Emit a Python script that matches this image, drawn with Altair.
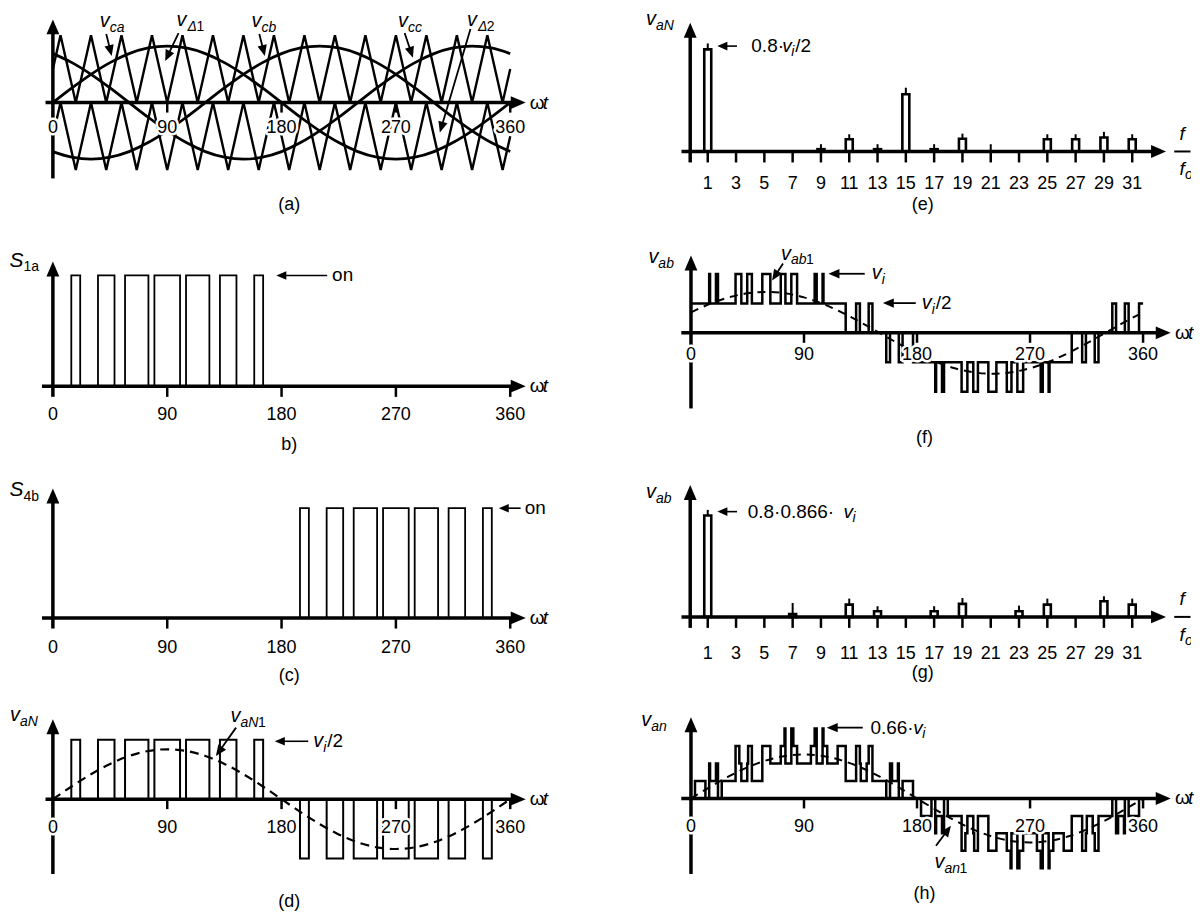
import math
import altair as alt
import pandas as pd

FONT = "Liberation Sans"

# ---------------- values ----------------
angle_ticks = [0, 90, 180, 270, 360]
harmonic_ticks = [1, 3, 5, 7, 9, 11, 13, 15, 17, 19, 21, 23, 25, 27, 29, 31]

# one period of the reference shape, sampled every 15 degrees
sine_deg = [0, 15, 30, 45, 60, 75, 90, 105, 120, 135, 150, 165, 180,
            195, 210, 225, 240, 255, 270, 285, 300, 315, 330, 345, 360]
sine_shape = [0.0, 0.259, 0.5, 0.707, 0.866, 0.966, 1.0, 0.966, 0.866, 0.707, 0.5, 0.259, 0.0,
              -0.259, -0.5, -0.707, -0.866, -0.966, -1.0, -0.966, -0.866, -0.707, -0.5, -0.259, 0.0]
ref_amp = 0.84      # references in (a) and v_aN1 in (d)  (carrier = 1, v_i/2 = 1)
vab1_amp = 1.39     # v_ab1 in (f), units of v_i/2
van1_amp = 2.52     # v_an1 in (h), units of v_i/6

# phase-disposition carriers of (a): vertex angles and levels
carrier_deg = [0, 6, 18, 30, 42, 54, 66, 78, 90, 102, 114, 126, 138, 150, 162, 174,
               186, 198, 210, 222, 234, 246, 258, 270, 282, 294, 306, 318, 330, 342, 354, 360]
upper_carrier = [0.5, 1, 0, 1, 0, 1, 0, 1, 0, 1, 0, 1, 0, 1, 0, 1,
                 0, 1, 0, 1, 0, 1, 0, 1, 0, 1, 0, 1, 0, 1, 0, 0.5]
lower_carrier = [-0.5, 0, -1, 0, -1, 0, -1, 0, -1, 0, -1, 0, -1, 0, -1, 0,
                 -1, 0, -1, 0, -1, 0, -1, 0, -1, 0, -1, 0, -1, 0, -1, -0.5]

# switching edges of phase a (degrees): +v_i/2 pulses (S1a on) and -v_i/2 pulses (S4b on)
pos_on = [14.5, 35.5, 56.8, 79.9, 104.8, 131.5, 158.5]
pos_off = [21.5, 48.5, 75.2, 100.1, 123.2, 144.5, 165.5]
neg_on = [194.5, 215.5, 236.8, 259.9, 284.8, 311.5, 338.5]
neg_off = [201.5, 228.5, 255.2, 280.1, 303.2, 324.5, 345.5]

# spectrum (e): v_aN, units of v_i/2
e_orders = [1, 9, 11, 13, 15, 17, 19, 21, 25, 27, 29, 31]
e_bar = [0.80, 0.018, 0.096, 0.018, 0.448, 0.018, 0.10, 0.0, 0.096, 0.096, 0.109, 0.096]
e_peak = [0.847, 0.057, 0.135, 0.057, 0.50, 0.057, 0.14, 0.057, 0.135, 0.135, 0.154, 0.135]

# spectrum (g): v_ab, units of v_i
g_orders = [1, 7, 11, 13, 17, 19, 23, 25, 29, 31]
g_bar = [0.693, 0.02, 0.084, 0.039, 0.039, 0.089, 0.039, 0.084, 0.107, 0.084]
g_peak = [0.731, 0.095, 0.125, 0.073, 0.073, 0.129, 0.077, 0.125, 0.141, 0.125]


# ---------------- derived waveforms ----------------
def shifted(k):
    return [sine_shape[(i + k) % 24] for i in range(25)]


def a_level(th):
    th = th % 360
    for on, off in zip(pos_on, pos_off):
        if on <= th < off:
            return 1
    for on, off in zip(neg_on, neg_off):
        if on <= th < off:
            return -1
    return 0


edges_a = pos_on + pos_off + neg_on + neg_off


def step_series(fn, shifts):
    ev = sorted(set([0.0, 360.0] + [round((e + s) % 360, 4) for e in edges_a for s in shifts]))
    xs, ys = [], []
    for a, b in zip(ev[:-1], ev[1:]):
        v = fn((a + b) / 2)
        xs += [a, b]
        ys += [v, v]
    return xs, ys


s1a_x, s1a_y = step_series(lambda t: 1 if a_level(t) == 1 else 0, (0,))
s4b_x, s4b_y = step_series(lambda t: 1 if a_level(t) == -1 else 0, (0,))
vaN_x, vaN_y = step_series(a_level, (0,))
vab_x, vab_y = step_series(lambda t: a_level(t) - a_level(t - 120), (0, 120))
van_x, van_y = step_series(lambda t: 2 * a_level(t) - a_level(t - 120) - a_level(t - 240), (0, 120, 240))

HEAD = "M0,0L0.43,1L-0.43,1Z"


class Panel:
    def __init__(self, left, top, width, height, x_ref, x_px, kx, y_px, ky):
        self.w, self.h = width, height
        self.kx, self.ky = kx, ky
        x0 = x_ref + (left - x_px) / kx
        self.xdom = [x0, x0 + width / kx]
        self.ydom = [-(top + height - y_px) / ky, (y_px - top) / ky]
        self.layers = []

    def _x(self, f="x"):
        return alt.X(f, type="quantitative",
                     scale=alt.Scale(domain=self.xdom, nice=False, zero=False), axis=None)

    def _y(self, f="y"):
        return alt.Y(f, type="quantitative",
                     scale=alt.Scale(domain=self.ydom, nice=False, zero=False), axis=None)

    def polyline(self, xs, ys, lw=2.5, dash=None, interp=None):
        df = pd.DataFrame({"x": xs, "y": ys, "o": list(range(len(xs)))})
        kw = dict(color="black", strokeWidth=lw, strokeJoin="miter", strokeCap="butt")
        if dash:
            kw["strokeDash"] = dash
        if interp:
            kw["interpolate"] = interp
        self.layers.append(alt.Chart(df).mark_line(**kw).encode(
            x=self._x(), y=self._y(), order=alt.Order("o:Q")))

    def segs(self, rows, lw=2.0):
        df = pd.DataFrame(rows, columns=["x", "y", "x2", "y2"])
        self.layers.append(alt.Chart(df).mark_rule(color="black", strokeWidth=lw, strokeCap="butt").encode(
            x=self._x(), y=self._y(), x2=alt.X2("x2"), y2=alt.Y2("y2")))

    def heads(self, rows, length):
        df = pd.DataFrame(rows, columns=["x", "y", "a"])
        self.layers.append(alt.Chart(df).mark_point(
            shape=HEAD, filled=True, size=(2 * length) ** 2, opacity=1, color="black", strokeWidth=0
        ).encode(x=self._x(), y=self._y(), angle=alt.Angle("a:Q", scale=None)))

    def arrow(self, x1, y1, x2, y2, length=11, lw=1.8):
        dxp = (x2 - x1) * self.kx
        dyp = -(y2 - y1) * self.ky
        d = math.hypot(dxp, dyp)
        ang = math.degrees(math.atan2(dxp, -dyp)) % 360
        f = max(0.0, (d - 0.7 * length) / d)
        self.segs([(x1, y1, x1 + (x2 - x1) * f, y1 + (y2 - y1) * f)], lw=lw)
        self.heads([(x2, y2, ang)], length)

    def xaxis(self, x_from, x_tip, lw=3.5, head=15):
        self.segs([(x_from, 0, x_tip - 0.7 * head / self.kx, 0)], lw=lw)
        self.heads([(x_tip, 0, 90)], head)

    def yaxis(self, x, y_from, y_tip, lw=3.5, head=15):
        self.segs([(x, y_from, x, y_tip - 0.7 * head / self.ky)], lw=lw)
        self.heads([(x, y_tip, 0)], head)

    def ticks(self, xs, down_px, lw=2.5):
        self.segs([(t, 0, t, -down_px / self.ky) for t in xs], lw=lw)

    def text(self, xs, ys, labels, size=18, italic=False, align="left", dx=0, dy=0,
             halo=False, clip=False):
        if not isinstance(xs, (list, tuple)):
            xs, labels = [xs], [labels]
        if not isinstance(ys, (list, tuple)):
            ys = [ys] * len(xs)
        df = pd.DataFrame({"x": xs, "y": ys, "t": labels})
        kw = dict(font=FONT, fontSize=size, align=align, baseline="middle", dx=dx, dy=dy)
        if italic:
            kw["fontStyle"] = "italic"
        if clip:
            kw["clip"] = True
        enc = dict(x=self._x(), y=self._y(), text=alt.Text("t:N"))
        if halo:
            self.layers.append(alt.Chart(df).mark_text(
                color="white", stroke="white", strokeWidth=5, strokeJoin="round", **kw).encode(**enc))
        self.layers.append(alt.Chart(df).mark_text(color="black", **kw).encode(**enc))

    def vlabel(self, x, y, main, sub, size=20, subsize=14, sub_dx=10, sub_dy=7, digit=None):
        self.text(x, y, main, size=size, italic=True)
        self.text(x, y, sub, size=subsize, italic=True, dx=sub_dx, dy=sub_dy)
        if digit is not None:
            self.text(x, y, digit[0], size=subsize, dx=digit[1], dy=sub_dy)

    def omega_t(self, x):
        self.text(x, 0, "\u03c9", size=19)
        self.text(x, 0, "t", size=19, italic=True, dx=13)

    def chart(self):
        return alt.layer(*self.layers).properties(width=self.w, height=self.h)


# ---------------- (a) carriers and references ----------------
A = Panel(8, 8, 620, 208, 0, 53, 1.2736, 96.7, 67.5)
A.polyline(carrier_deg, upper_carrier, lw=2.4)
A.polyline(carrier_deg, lower_carrier, lw=2.4)
for k in (0, -8, 8):
    A.polyline(sine_deg, [ref_amp * v for v in shifted(k)], lw=2.8, interp="monotone")
A.xaxis(-5.8, 372.2)
A.yaxis(0, -1.126, 1.236)
A.ticks([90, 180, 270, 360], 10)
A.text(angle_ticks, -0.37, [str(t) for t in angle_ticks], align="center", halo=True)
A.text(186, -1.516, "(a)", align="center")
A.omega_t(375.3)
A.vlabel(36.9, 1.21, "v", "ca")
A.vlabel(97.4, 1.225, "v", "\u0394", sub_dx=11, digit=("1", 20))
A.vlabel(156.3, 1.21, "v", "cb")
A.vlabel(271.7, 1.21, "v", "cc")
A.vlabel(325.9, 1.225, "v", "\u0394", sub_dx=11, digit=("2", 20))
A.arrow(42.0, 1.018, 46.3, 0.692)
A.arrow(98.9, 1.033, 88.4, 0.618)
A.arrow(162.5, 1.018, 166.8, 0.692)
A.arrow(276.9, 1.033, 283.4, 0.667)
A.arrow(328.7, 1.092, 304.6, -0.444)

# ---------------- (b) S1a ----------------
B = Panel(8, 216, 620, 239, 0, 53, 1.2736, 381, 111)
B.polyline(s1a_x, s1a_y, lw=1.8)
B.xaxis(-8.6, 372.2)
B.yaxis(0, -0.096, 1.126)
B.ticks([90, 180, 270, 360], 10.7)
B.text(angle_ticks, -0.261, [str(t) for t in angle_ticks], align="center")
B.text(186, -0.532, "b)", align="center")
B.omega_t(375.3)
B.text(-34.2, 1.135, "S", size=21, italic=True)
B.text(-34.2, 1.135, "1a", size=14, dx=14, dy=7)
B.arrow(215.9, 1.0, 175.9, 1.0, length=10, lw=1.6)
B.text(219.8, 1.0, "on", size=19)

# ---------------- (c) S4b ----------------
C = Panel(8, 455, 620, 230, 0, 53, 1.2736, 613.3, 110)
C.polyline(s4b_x, s4b_y, lw=1.8)
C.xaxis(-8.6, 372.2)
C.yaxis(0, -0.097, 1.18)
C.ticks([90, 180, 270, 360], 10.7)
C.text(angle_ticks, -0.273, [str(t) for t in angle_ticks], align="center")
C.text(186, -0.534, "(c)", align="center")
C.omega_t(375.3)
C.text(-34.2, 1.166, "S", size=21, italic=True)
C.text(-34.2, 1.166, "4b", size=14, dx=14, dy=7)
C.arrow(368.2, 1.0, 351.0, 1.0, length=10, lw=1.6)
C.text(371.4, 1.0, "on", size=19)

# ---------------- (d) v_aN ----------------
D = Panel(8, 685, 620, 220, 0, 53, 1.2736, 795, 59.5)
D.polyline(vaN_x, vaN_y, lw=2.0)
D.polyline(sine_deg, [ref_amp * v for v in shifted(0)], lw=2.2, dash=[9, 6], interp="monotone")
D.xaxis(-5.8, 372.2)
D.yaxis(0, -1.261, 1.345)
D.ticks([90, 180, 270, 360], 10)
D.text(angle_ticks, -0.487, [str(t) for t in angle_ticks], align="center", halo=True)
D.text(186, -1.731, "(d)", align="center")
D.omega_t(375.3)
D.vlabel(-33.8, 1.412, "v", "aN", sub_dx=10)
D.vlabel(139.8, 1.395, "v", "aN", sub_dx=10, digit=("1", 27.5))
D.arrow(144.2, 1.205, 128.3, 0.728)
D.vlabel(204.9, 0.975, "v", "i", sub_dx=10)
D.text(204.9, 0.975, "/2", size=19, dx=14)
D.arrow(201.0, 0.975, 174.7, 0.975, length=10, lw=1.6)


# ---------------- (e) spectrum of v_aN ----------------
def spectrum(P, orders, bars, peaks):
    df = pd.DataFrame({"x": orders, "y": bars, "z": [0.0] * len(orders), "p": peaks})
    P.layers.append(alt.Chart(df).mark_rule(color="black", strokeWidth=2).encode(
        x=P._x(), y=P._y("z"), y2=alt.Y2("p")))
    P.layers.append(alt.Chart(df).mark_bar(size=7, fill="white", stroke="black", strokeWidth=2.6).encode(
        x=P._x(), y=P._y(), y2=alt.Y2("z")))


def fraction(P, x, up, down):
    P.text(x, up, "f", size=19, italic=True, align="center", clip=True)
    P.segs([(x - 0.55, 0, x + 0.6, 0)], lw=2)
    P.text(x, down, "f", size=19, italic=True, align="center", clip=True)
    P.text(x, down, "o", size=14, italic=True, dx=3, dy=6, clip=True)


E = Panel(628, 8, 566, 212, 1, 705.9, 14.44, 145.7, 127.9)
spectrum(E, e_orders, e_bar, e_peak)
E.xaxis(-0.855, 33.39)
E.yaxis(-0.24, -0.086, 1.009)
E.ticks(harmonic_ticks, 11)
E.text(harmonic_ticks, -0.255, [str(h) for h in harmonic_ticks], align="center")
E.text(16.2, -0.417, "(e)", align="center")
E.vlabel(-3.36, 1.037, "v", "aN", sub_dx=10)
E.arrow(3.07, 0.826, 1.68, 0.826, length=10, lw=1.6)
E.text(4.08, 0.826, "0.8\u00b7", size=19)
E.text(4.08, 0.826, "v", size=19, italic=True, dx=31)
E.text(4.08, 0.826, "i", size=14, italic=True, dx=40, dy=6)
E.text(4.08, 0.826, "/2", size=19, dx=44)
fraction(E, 34.52, 0.138, -0.14)

# ---------------- (f) v_ab ----------------
F = Panel(628, 220, 566, 230, 0, 692.7, 1.259, 327.5, 29.5)
F.polyline(vab_x, vab_y, lw=2.5)
F.polyline(sine_deg, [vab1_amp * v for v in shifted(2)], lw=2.0, dash=[8, 6], interp="monotone")
F.xaxis(-7.7, 382)
F.yaxis(0, -2.57, 2.627)
F.ticks([90, 180, 270, 360], 10)
F.text(angle_ticks, -0.763, [str(t) for t in angle_ticks], align="center", halo=True)
F.text(186, -3.576, "(f)", align="center")
F.omega_t(385.5)
F.vlabel(-33.9, 2.56, "v", "ab", sub_dx=10)
F.vlabel(71.7, 2.695, "v", "ab", sub_dx=10, digit=("1", 25))
F.arrow(73.3, 2.356, 64.6, 1.78)
F.arrow(138.4, 2.007, 109.5, 2.007)
F.vlabel(144.0, 2.017, "v", "i", sub_dx=10)
F.arrow(179.0, 1.01, 152.8, 1.01)
F.vlabel(183.7, 1.01, "v", "i", sub_dx=10)
F.text(183.7, 1.01, "/2", size=19, dx=14)

# ---------------- (g) spectrum of v_ab ----------------
G = Panel(628, 450, 566, 235, 1, 705.9, 14.44, 612.3, 146.8)
spectrum(G, g_orders, g_bar, g_peak)
G.xaxis(-0.855, 33.39)
G.yaxis(-0.24, -0.075, 0.901)
G.ticks(harmonic_ticks, 11)
G.text(harmonic_ticks, -0.252, [str(h) for h in harmonic_ticks], align="center")
G.text(16.2, -0.381, "(g)", align="center")
G.vlabel(-3.36, 0.853, "v", "ab", sub_dx=10)
G.arrow(3.07, 0.719, 1.68, 0.719, length=10, lw=1.6)
G.text(3.83, 0.719, "0.8\u00b70.866\u00b7", size=19)
G.text(3.83, 0.719, "v", size=19, italic=True, dx=96)
G.text(3.83, 0.719, "i", size=14, italic=True, dx=105, dy=6)
fraction(G, 34.52, 0.121, -0.122)

# ---------------- (h) v_an ----------------
H = Panel(628, 685, 566, 220, 0, 692.7, 1.259, 794.3, 17.5)
H.polyline(van_x, van_y, lw=2.5)
H.polyline(sine_deg, [van1_amp * v for v in shifted(0)], lw=2.0, dash=[8, 6], interp="monotone")
H.xaxis(-7.7, 382)
H.yaxis(0, -4.326, 4.646)
H.ticks([90, 180, 270, 360], 10)
H.text(angle_ticks, -1.64, [str(t) for t in angle_ticks], align="center", halo=True)
H.text(186, -5.46, "(h)", align="center")
H.omega_t(385.5)
H.vlabel(-39.5, 4.474, "v", "an", sub_dx=10)
H.arrow(136.8, 4.057, 108.1, 4.057)
H.text(142.9, 4.057, "0.66\u00b7", size=19)
H.text(142.9, 4.057, "v", size=19, italic=True, dx=43)
H.text(142.9, 4.057, "i", size=14, italic=True, dx=52, dy=6)
H.vlabel(194.0, -3.64, "v", "an", sub_dx=10, digit=("1", 25))
H.arrow(195.1, -2.709, 207.0, -1.566)

left = alt.vconcat(A.chart(), B.chart(), C.chart(), D.chart(), spacing=0, bounds="flush")
right = alt.vconcat(E.chart(), F.chart(), G.chart(), H.chart(), spacing=0, bounds="flush")
chart = alt.hconcat(left, right, spacing=0, padding=0).configure_view(stroke=None)

chart.save("out.html", embed_options={"renderer": "svg", "actions": False})
